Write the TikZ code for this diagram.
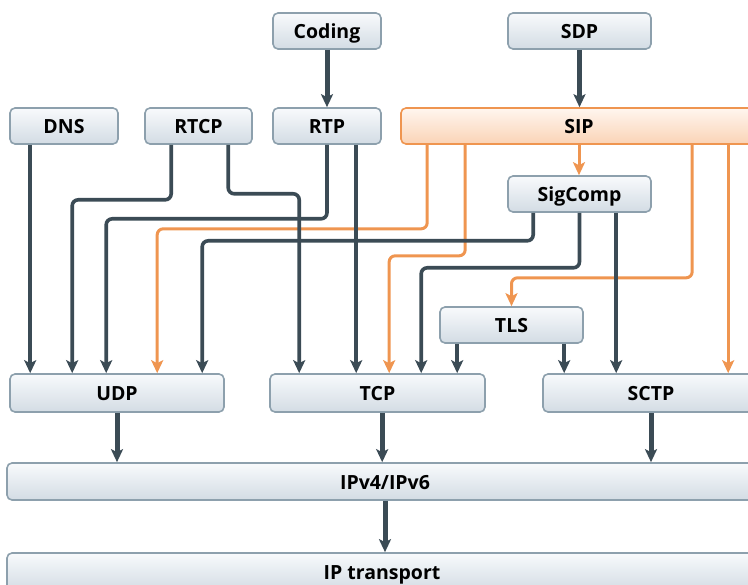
\documentclass[tikz,border=0pt]{standalone}
\usepackage{fontspec}
\setmainfont{Open Sans}
\usetikzlibrary{arrows.meta}
\definecolor{dk}{HTML}{3B4B55}
\definecolor{org}{HTML}{EF9550}
\definecolor{bxline}{HTML}{8DA0AD}
\definecolor{bxtop}{HTML}{F8FAFC}
\definecolor{bxbot}{HTML}{D3DCE4}
\definecolor{siptop}{HTML}{FFF6EF}
\definecolor{sipbot}{HTML}{FAD3B6}
\begin{document}
\begin{tikzpicture}[x=1pt,y=-1pt,
  box/.style={rectangle, rounded corners=5pt, draw=bxline, line width=1.6pt,
    top color=bxtop, bottom color=bxbot, inner sep=0pt, text=black,
    text height=16.5pt, text depth=1pt,
    font=\fontsize{19.5}{23}\selectfont\bfseries},
  sipbox/.style={box, draw=org, top color=siptop, bottom color=sipbot},
  dl/.style={draw=dk, line width=3.6pt, rounded corners=6pt,
    -{Stealth[length=13pt,width=12pt,inset=3pt]}},
  dlthick/.style={dl, line width=5pt},
  ol/.style={draw=org, line width=3pt, rounded corners=6pt,
    -{Stealth[length=13pt,width=12pt,inset=3pt]}}
]
\useasboundingbox (0,0) rectangle (748,585);
\clip (0,0) rectangle (748,585);

% boxes
\node[box, minimum width=108pt, minimum height=36pt] (coding) at (327,31) {Coding};
\node[box, minimum width=143pt, minimum height=36pt] (sdp) at (579.5,31) {SDP};
\node[box, minimum width=108pt, minimum height=36pt] (dns) at (64,126) {DNS};
\node[box, minimum width=107pt, minimum height=36pt] (rtcp) at (198.5,126) {RTCP};
\node[box, minimum width=108pt, minimum height=36pt] (rtp) at (327,126) {RTP};
\node[sipbox, minimum width=356pt, minimum height=36pt] (sip) at (579,126) {SIP};
\node[box, minimum width=143pt, minimum height=36pt] (sigcomp) at (579.5,194) {SigComp};
\node[box, minimum width=143pt, minimum height=36pt] (tls) at (511.5,325) {TLS};
\node[box, minimum width=214pt, minimum height=38pt] (udp) at (117,393) {UDP};
\node[box, minimum width=215pt, minimum height=38pt] (tcp) at (377.5,393) {TCP};
\node[box, minimum width=216pt, minimum height=38pt] (sctp) at (651,393) {SCTP};
\node[box, minimum width=756pt, minimum height=37pt] (ipv4) at (385,481.5) {IPv4/IPv6};
\node[box, minimum width=750pt, minimum height=38pt] (iptr) at (382,572) {IP transport};

% top arrows
\draw[dlthick] (coding.south) -- (coding.south |- rtp.north);
\draw[dlthick] (sdp.south) -- (sdp.south |- sip.north);
\draw[ol] (sip.south) -- (sip.south |- sigcomp.north);

% orange SIP lines
\draw[ol] ([xshift=27pt]sip.south west) -- ++(0,84) -| ([xshift=148pt]udp.north west);
\draw[ol] ([xshift=65pt]sip.south west) -- ++(0,111) -| ([xshift=120pt]tcp.north west);
\draw[ol] ([xshift=292pt]sip.south west) -- ++(0,133) -| (tls.north);
\draw[ol] ([xshift=328pt]sip.south west) -- ([xshift=186pt]sctp.north west);

% dark lines
\draw[dl] ([xshift=21pt]dns.south west) -- ([xshift=21pt]udp.north west);
\draw[dl] ([xshift=27pt]rtcp.south west) -- ++(0,55) -| ([xshift=63pt]udp.north west);
\draw[dl] ([xshift=84pt]rtcp.south west) -- ++(0,49) -| ([xshift=30pt]tcp.north west);
\draw[dl] (rtp.south) -- ++(0,74) -| ([xshift=97pt]udp.north west);
\draw[dl, line width=4.2pt] ([xshift=84pt]rtp.south west) -- ([xshift=87pt]tcp.north west);
\draw[dl] ([xshift=26pt]sigcomp.south west) -- ++(0,28) -| ([xshift=193pt]udp.north west);
\draw[dl] (sigcomp.south) -- ++(0,55) -| ([xshift=152pt]tcp.north west);
\draw[dl] ([xshift=109pt]sigcomp.south west) -- ([xshift=74pt]sctp.north west);
\draw[dl] ([xshift=18pt]tls.south west) -- ([xshift=188pt]tcp.north west);
\draw[dl] ([xshift=125pt]tls.south west) -- ([xshift=22pt]sctp.north west);

% lower arrows
\draw[dlthick] (udp.south) -- (udp.south |- ipv4.north);
\draw[dlthick] ([xshift=113pt]tcp.south west) -- ([xshift=376pt]ipv4.north west);
\draw[dlthick] (sctp.south) -- (sctp.south |- ipv4.north);
\draw[dlthick] (ipv4.south) -- (ipv4.south |- iptr.north);
\end{tikzpicture}
\end{document}
